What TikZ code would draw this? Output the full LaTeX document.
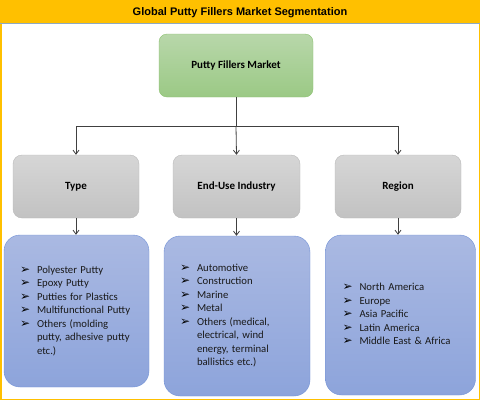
\documentclass[tikz,border=0pt]{standalone}
\usepackage{fontspec}
\setmainfont{Carlito}
\newfontfamily\titlefont{Liberation Sans}
\newfontfamily\symfont{DejaVu Sans}
\usepackage{tikz}
\usetikzlibrary{positioning,arrows.meta}
\setlength{\parindent}{0pt}
\definecolor{bandgold}{RGB}{255,192,0}
\definecolor{bandline}{RGB}{142,169,193}
\definecolor{greentop}{RGB}{184,215,170}
\definecolor{greenbot}{RGB}{155,201,133}
\definecolor{greenedge}{RGB}{141,193,113}
\definecolor{greytop}{RGB}{214,214,214}
\definecolor{greybot}{RGB}{194,194,194}
\definecolor{greyedge}{RGB}{185,185,185}
\definecolor{bluetop}{RGB}{170,185,226}
\definecolor{bluebot}{RGB}{141,164,219}
\definecolor{blueedge}{RGB}{114,146,214}
\definecolor{linkgrey}{RGB}{64,64,64}
\newcommand{\segitem}{\makebox[17pt][l]{\raisebox{0.2pt}{\symfont\bfseries\fontsize{12}{12}\selectfont\color{black}➢}}}
\newcommand{\seglist}[1]{%
  \fontsize{10.7}{13.5}\selectfont
  \begin{tabular}{@{}l@{}l@{}}#1\end{tabular}%
}

\begin{document}
\begin{tikzpicture}[x=1pt,y=-1pt,
  headbox/.style={rounded corners=8pt,draw=greenedge,top color=greentop,bottom color=greenbot,
    minimum width=154pt,minimum height=63pt,font=\fontsize{11}{13}\selectfont\bfseries},
  segbox/.style={rounded corners=9pt,draw=greyedge,top color=greytop,bottom color=greybot,
    minimum width=126pt,minimum height=63pt,font=\fontsize{11}{13}\selectfont\bfseries},
  listbox/.style={rounded corners=16pt,draw=blueedge,top color=bluetop,bottom color=bluebot,
    inner xsep=16pt,align=left,text=black!90},
  link/.style={draw=linkgrey,line width=0.8pt},
  arr/.style={link,-{Straight Barb[length=4pt,width=6pt]}}]
\useasboundingbox (0,0) rectangle (480,400);
% frame and title band
\draw[bandgold,line width=1.5pt] (0.75,0.75) rectangle (479.25,399.25);
\node[fill=bandgold,minimum width=480pt,minimum height=21pt,inner sep=0pt,
  font=\titlefont\fontsize{11}{13}\selectfont\bfseries] (title) at (240,12.5)
  {Global Putty Fillers Market Segmentation};
\draw[bandline,line width=0.6pt] (title.south west) -- (title.south east);
% top level
\node[headbox] (market) at (236,65.5) {Putty Fillers Market};
% segments
\node[segbox] (type) at (76,186.5) {Type};
\node[segbox,minimum width=127pt] (enduse) at (236.5,186.5) {End-Use Industry};
\node[segbox] (region) at (398,186.5) {Region};
% lists
\node[listbox,minimum width=145pt,minimum height=152pt,text width=113pt] (typelist) at (76.5,311)
  {\seglist{\segitem & Polyester Putty\\ \segitem & Epoxy Putty\\ \segitem & Putties for Plastics\\
   \segitem & Multifunctional Putty\\ \segitem & Others (molding\\ & putty, adhesive putty\\ & etc.)}};
\node[listbox,minimum width=146pt,minimum height=160pt,text width=114pt] (enduselist) at (237,316)
  {\seglist{\segitem & Automotive\\ \segitem & Construction\\ \segitem & Marine\\ \segitem & Metal\\
   \segitem & Others (medical,\\ & electrical, wind\\ & energy, terminal\\ & ballistics etc.)}};
\node[listbox,minimum width=149pt,minimum height=160pt,text width=116pt,inner xsep=17pt] (regionlist) at (400.5,315)
  {\seglist{\segitem & North America\\ \segitem & Europe\\ \segitem & Asia Pacific\\
   \segitem & Latin America\\ \segitem & Middle East \& Africa}};
% connectors
\coordinate (split) at (236,126);
\draw[link] (market.south) -- (split);
\draw[arr] (split) -| (type.north);
\draw[arr] (split) -- (enduse.north);
\draw[arr] (split) -| (region.north);
\draw[arr] (type.south) -- (type.south |- typelist.north);
\draw[arr] (enduse.south) -- (enduse.south |- enduselist.north);
\draw[arr] (region.south) -- (region.south |- regionlist.north);
\end{tikzpicture}
\end{document}
